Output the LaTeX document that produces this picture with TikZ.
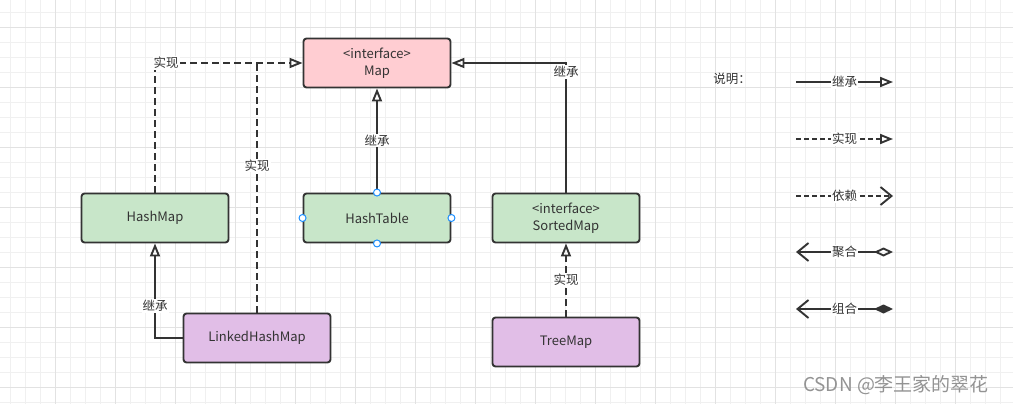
\documentclass[tikz,border=0pt]{standalone}
\usepackage{fontspec}
\setmainfont{Noto Sans CJK SC}
\usetikzlibrary{arrows.meta}
\definecolor{lineGray}{HTML}{333333}
\definecolor{textGray}{HTML}{333333}
\definecolor{mapPink}{HTML}{FFCDD2}
\definecolor{boxGreen}{HTML}{C8E6C9}
\definecolor{boxPurple}{HTML}{E1BEE7}
\definecolor{gridLight}{HTML}{F0F0F0}
\definecolor{gridDark}{HTML}{E2E2E2}
\definecolor{handleBlue}{HTML}{1E90FF}
\begin{document}
\begin{tikzpicture}[x=1pt,y=-1pt]
		\tikzstyle{GreenBox} = [rectangle, rounded corners=3pt, minimum width=147pt, minimum height=49pt, text centered, align=center, draw=lineGray, line width=1.9pt, fill=boxGreen, text=textGray, font=\fontsize{13}{16.5}\selectfont]
		\tikzstyle{PinkBox} = [GreenBox, fill=mapPink]
		\tikzstyle{PurpleBox} = [GreenBox, fill=boxPurple]
		\tikzstyle{Tag} = [fill=white, inner sep=1pt, text=textGray, font=\fontsize{12.5}{13}\selectfont]
		\tikzstyle{extendArrow} = [draw=lineGray, line width=1.9pt, -{Triangle[open, length=13pt, width=10pt]}]
		\tikzstyle{implLine} = [draw=lineGray, line width=1.9pt, dash pattern=on 7pt off 4pt]
		\tikzstyle{implArrow} = [implLine, -{Triangle[open, length=13pt, width=10pt]}]
		\tikzstyle{Handle} = [draw=handleBlue, fill=white, line width=1pt]
		
		\useasboundingbox (0,0) rectangle (1013,404);
		\fill [white] (0,0) rectangle (1013,404);
		\foreach \x in {10,25,...,1010} \draw [gridLight, line width=1pt] (\x,0) -- (\x,404);
		\foreach \y in {12.5,27.5,...,404} \draw [gridLight, line width=1pt] (0,\y) -- (1013,\y);
		\foreach \x in {55,115,...,1010} \draw [gridDark, line width=1pt] (\x,0) -- (\x,404);
		\foreach \y in {27.5,87.5,...,404} \draw [gridDark, line width=1pt] (0,\y) -- (1013,\y);
		
		\node (mapNode) [PinkBox] at (377,63) {<interface>\\Map};
		\node (hashMapNode) [GreenBox] at (155,218) {HashMap};
		\node (hashTableNode) [GreenBox] at (377,218) {HashTable};
		\node (sortedMapNode) [GreenBox] at (566,218) {<interface>\\SortedMap};
		\node (linkedNode) [PurpleBox] at (257,338) {LinkedHashMap};
		\node (treeMapNode) [PurpleBox] at (566,342) {TreeMap};
		
		\draw [implArrow] (hashMapNode.north) |- node [Tag, pos=0.5, xshift=11pt] {实现} (mapNode.west);
		\draw [implLine] (linkedNode.north) -- node [Tag, pos=0.59] {实现} (linkedNode.north |- mapNode.west);
		\draw [extendArrow] (hashTableNode.north) -- node [Tag] {继承} (mapNode.south);
		\draw [extendArrow] (sortedMapNode.north) |- node [Tag, pos=0.5, yshift=-9pt] {继承} (mapNode.east);
		\draw [implArrow] (treeMapNode.north) -- node [Tag] {实现} (sortedMapNode.south);
		\draw [extendArrow] (linkedNode.west) -| node [Tag, pos=0.67] {继承} (hashMapNode.south);
		\foreach \a in {north,south,east,west} \draw [Handle] (hashTableNode.\a) circle (3.5pt);
		
		\node (legendTitle) [text=textGray, font=\fontsize{12.5}{13}\selectfont] at (732,79) {说明：};
		\coordinate (l1s) at (796,82);  \coordinate (l1e) at (893,82);
		\coordinate (l2s) at (796,139); \coordinate (l2e) at (893,139);
		\coordinate (l3s) at (796,196); \coordinate (l3e) at (893,196);
		\coordinate (l4s) at (796,252); \coordinate (l4e) at (893,252);
		\coordinate (l5s) at (796,309); \coordinate (l5e) at (893,309);
		\draw [extendArrow] (l1s) -- node [Tag] {继承} (l1e);
		\draw [implArrow, dash pattern=on 5pt off 3pt] (l2s) -- node [Tag] {实现} (l2e);
		\draw [implLine, dash pattern=on 5pt off 3pt, -{Straight Barb[length=11pt, width=18pt]}] (l3s) -- node [Tag] {依赖} (l3e);
		\draw [draw=lineGray, line width=1.9pt, {Straight Barb[length=11pt, width=18pt]}-{Diamond[open, length=19pt, width=9pt]}] (l4s) -- node [Tag] {聚合} (l4e);
		\draw [draw=lineGray, line width=1.9pt, {Straight Barb[length=11pt, width=18pt]}-{Diamond[length=19pt, width=9pt]}] (l5s) -- node [Tag] {组合} (l5e);
		
		\node (markText) [text=gray!85, font=\fontsize{19}{19}\selectfont] at (896,385) {CSDN @李王家的翠花};
\end{tikzpicture}
\end{document}
